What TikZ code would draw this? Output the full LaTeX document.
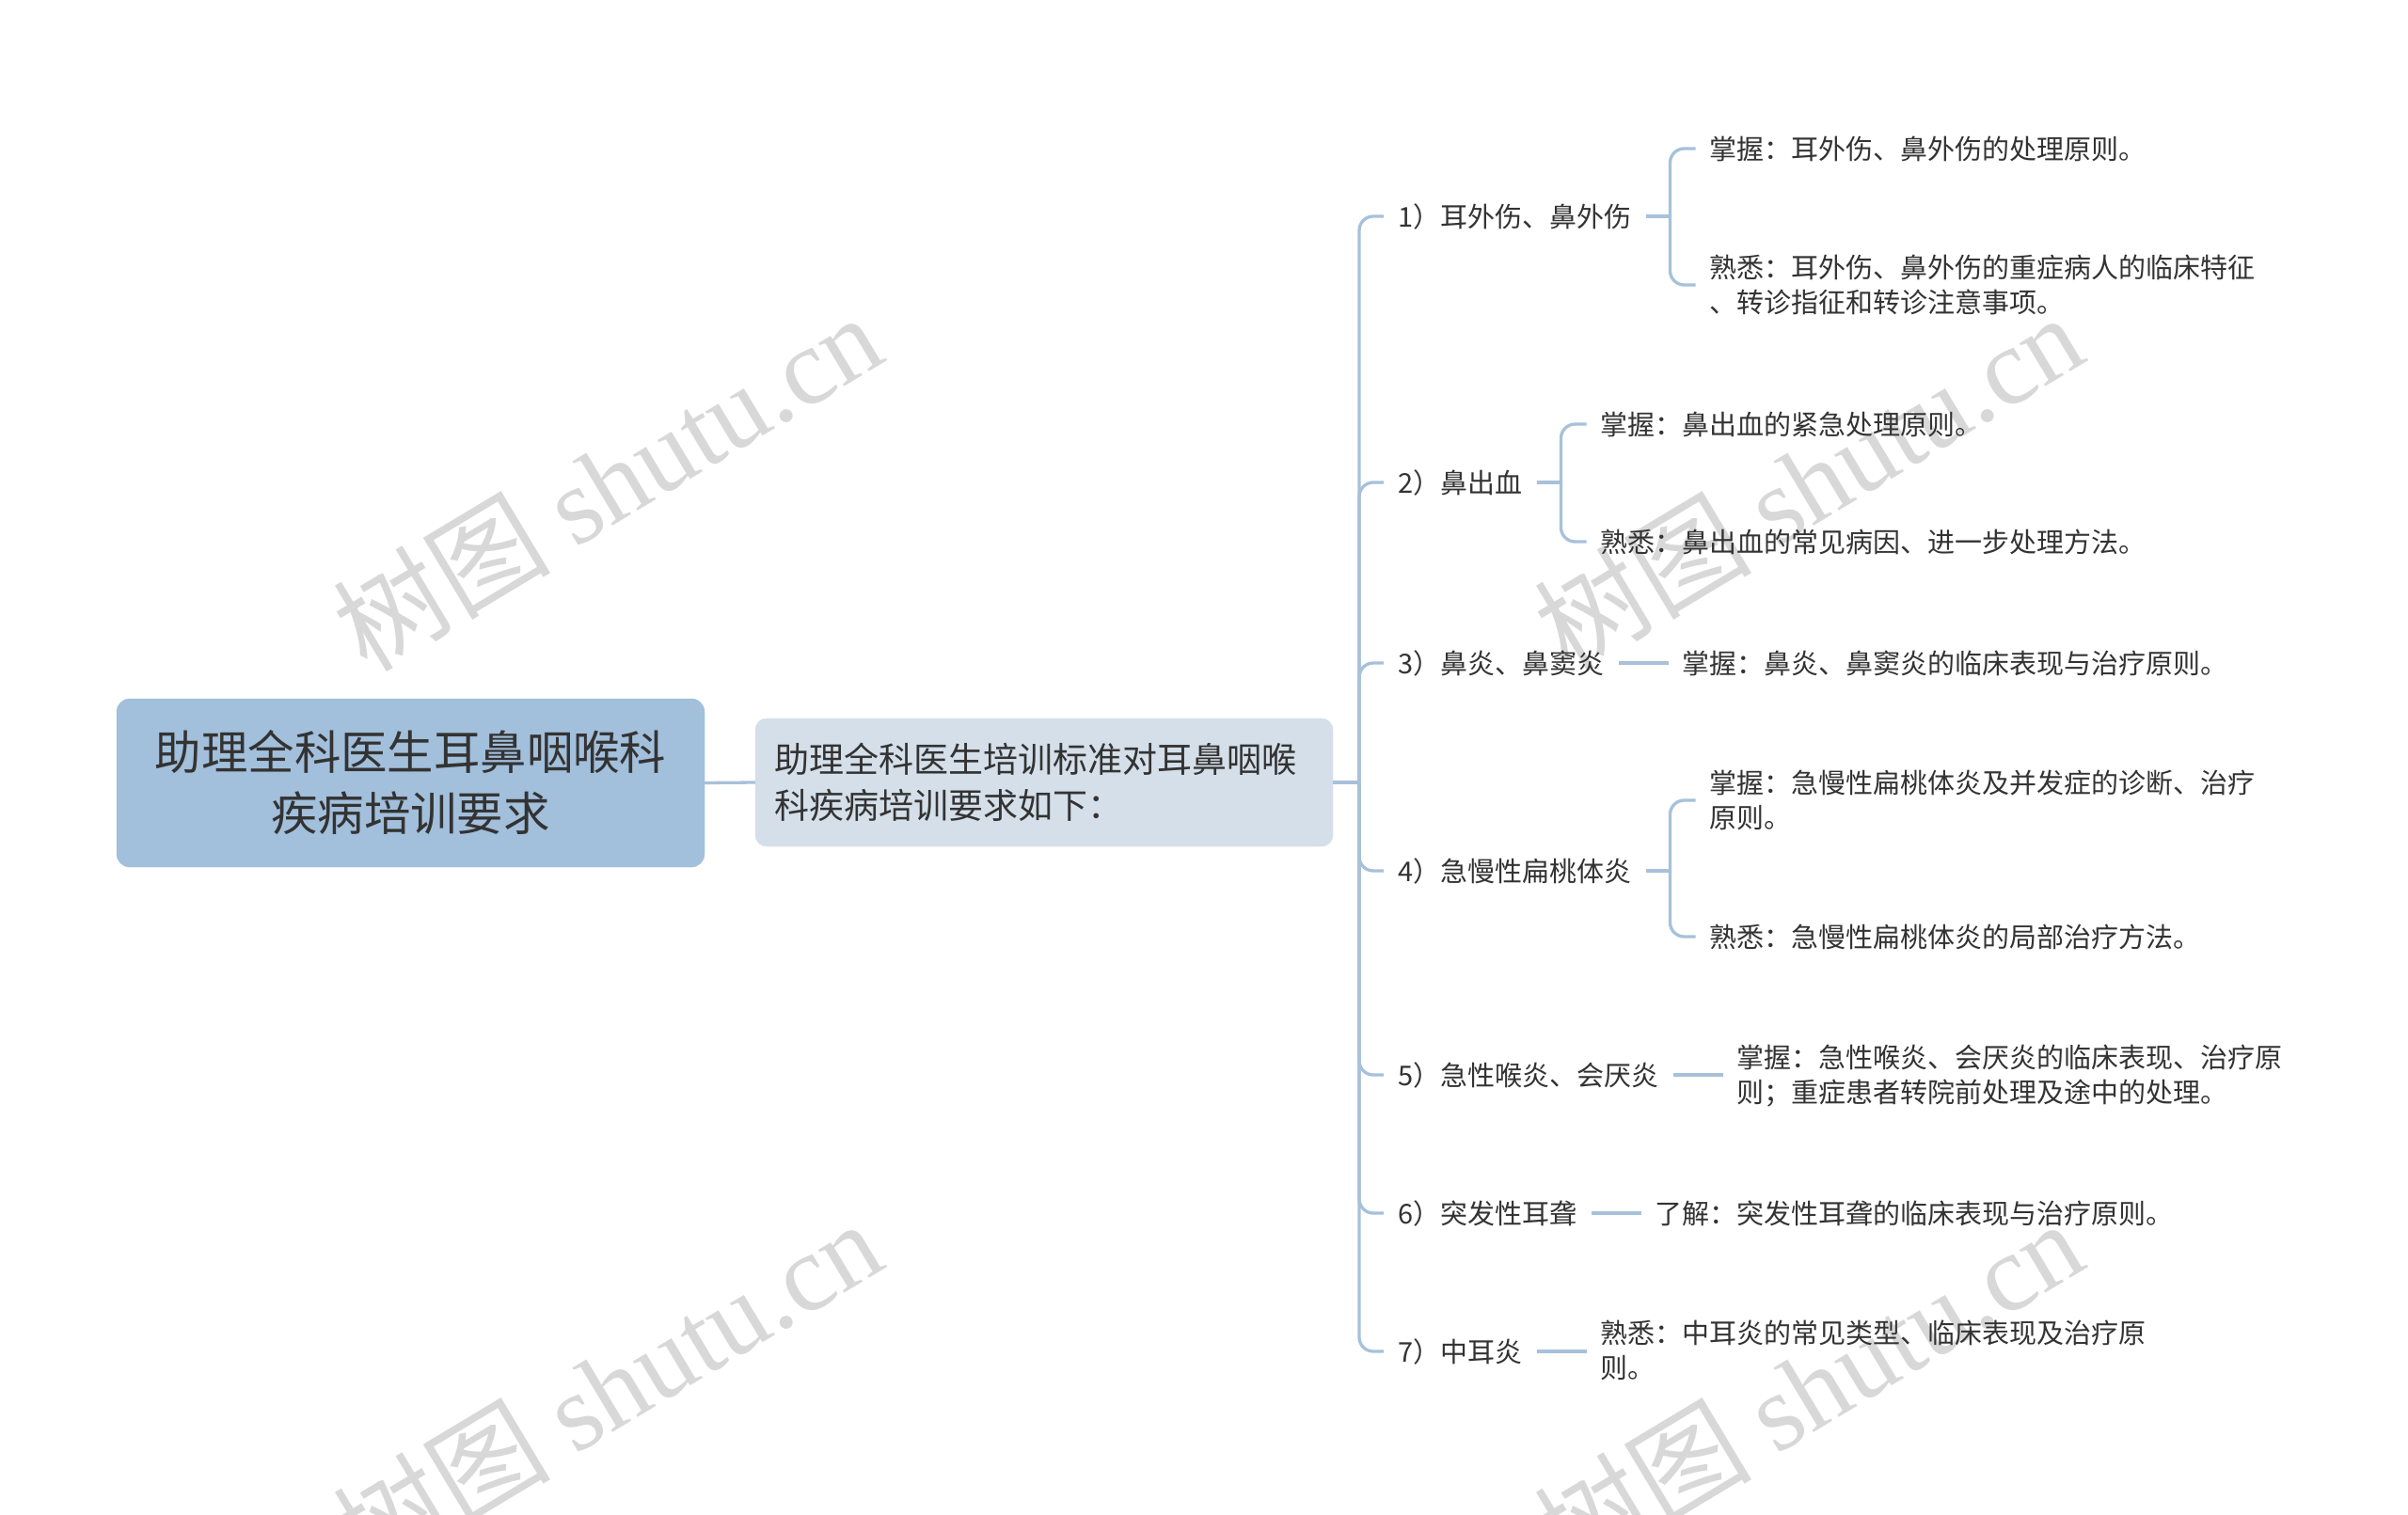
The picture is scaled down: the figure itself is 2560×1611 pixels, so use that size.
\documentclass[tikz,border=0pt]{standalone}
\usepackage{fontspec}
\setmainfont{Noto Sans CJK SC}
\newfontfamily\wmserif{Liberation Serif}
\usetikzlibrary{calc}
\definecolor{rootfill}{HTML}{A2BFDB}
\definecolor{midfill}{HTML}{D4DFE9}
\definecolor{linec}{HTML}{A7C1DA}
\definecolor{txt}{HTML}{333333}
\definecolor{wm}{HTML}{D8D8D8}
\begin{document}
\begin{tikzpicture}[x=1pt,y=-1pt,
  conn/.style={draw=linec, line width=3.3pt, rounded corners=15pt},
  rootbox/.style={fill=rootfill, draw=rootfill, rounded corners=14pt, text=txt,
    text width=585pt, inner xsep=20pt, inner ysep=0pt, minimum height=179pt, align=center,
    font=\fontsize{49.4pt}{65pt}\selectfont},
  midbox/.style={fill=midfill, draw=midfill, rounded corners=12pt, text=txt,
    text width=574pt, inner xsep=20pt, inner ysep=0pt, minimum height=136pt, align=left,
    font=\fontsize{37pt}{49pt}\selectfont},
  l2/.style={text=txt, inner xsep=15pt, inner ysep=4pt, anchor=west,
    font=\fontsize{29pt}{37.5pt}\selectfont},
  l3/.style={text=txt, inner xsep=15pt, inner ysep=4pt, anchor=west, align=left,
    font=\fontsize{29pt}{37.5pt}\selectfont},
  wmark/.style={text=wm, rotate=31, font=\fontsize{116pt}{120pt}\selectfont}
]
\useasboundingbox (0,0) rectangle (2560,1611);
\fill[white] (0,0) rectangle (2560,1611);

% watermarks
\node[wmark] (w1) at (645,512) {树图 {\wmserif shutu.cn}};
\node[wmark] (w2) at (1922,512) {树图 {\wmserif shutu.cn}};
\node[wmark] (w3) at (645,1476) {树图 {\wmserif shutu.cn}};
\node[wmark] (w4) at (1922,1476) {树图 {\wmserif shutu.cn}};

% main nodes
\node[rootbox] (root) at (436.5,832.5) {助理全科医生耳鼻咽喉科\\疾病培训要求};
\node[midbox] (mid) at (1110,832) {助理全科医生培训标准对耳鼻咽喉\\科疾病培训要求如下：};

\draw[conn] (root.east) -- (mid.west);
\coordinate (tj) at (1445,832);
\draw[conn] (mid.east) -- (tj);

% level 2
\node[l2] (b1) at (1471,230) {1）耳外伤、鼻外伤};
\node[l2] (b2) at (1471,513) {2）鼻出血};
\node[l2] (b3) at (1471,705) {3）鼻炎、鼻窦炎};
\node[l2] (b4) at (1471,926) {4）急慢性扁桃体炎};
\node[l2] (b5) at (1471,1143) {5）急性喉炎、会厌炎};
\node[l2] (b6) at (1471,1290) {6）突发性耳聋};
\node[l2] (b7) at (1471,1437) {7）中耳炎};

\foreach \b in {b1,b2,b3,b4,b5,b6,b7}{
  \draw[conn] (tj) |- (\b.west);
}

% level 3
\path (b1.east) ++(53,-72) node[l3] (c11) {掌握：耳外伤、鼻外伤的处理原则。};
\path (b1.east) ++(53,73) node[l3] (c12) {熟悉：耳外伤、鼻外伤的重症病人的临床特征\\、转诊指征和转诊注意事项。};
\path (b2.east) ++(53,-62) node[l3] (c21) {掌握：鼻出血的紧急处理原则。};
\path (b2.east) ++(53,63) node[l3] (c22) {熟悉：鼻出血的常见病因、进一步处理方法。};
\path (b3.east) ++(53,0) node[l3] (c31) {掌握：鼻炎、鼻窦炎的临床表现与治疗原则。};
\path (b4.east) ++(53,-75) node[l3] (c41) {掌握：急慢性扁桃体炎及并发症的诊断、治疗\\原则。};
\path (b4.east) ++(53,70) node[l3] (c42) {熟悉：急慢性扁桃体炎的局部治疗方法。};
\path (b5.east) ++(53,1) node[l3] (c51) {掌握：急性喉炎、会厌炎的临床表现、治疗原\\则；重症患者转院前处理及途中的处理。};
\path (b6.east) ++(53,0) node[l3] (c61) {了解：突发性耳聋的临床表现与治疗原则。};
\path (b7.east) ++(53,-1) node[l3] (c71) {熟悉：中耳炎的常见类型、临床表现及治疗原\\则。};

% brackets
\draw[conn] (b1.east) -- ++(26,0) coordinate (j1);
\draw[conn] (j1) |- (c11.west);
\draw[conn] (j1) |- (c12.west);
\draw[conn] (b2.east) -- ++(26,0) coordinate (j2);
\draw[conn] (j2) |- (c21.west);
\draw[conn] (j2) |- (c22.west);
\draw[conn] (b4.east) -- ++(26,0) coordinate (j4);
\draw[conn] (j4) |- (c41.west);
\draw[conn] (j4) |- (c42.west);
\draw[conn] (b3.east) -- (c31.west);
\draw[conn] (b5.east) -- (b5.east -| c51.west);
\draw[conn] (b6.east) -- (c61.west);
\draw[conn] (b7.east) -- (b7.east -| c71.west);
\end{tikzpicture}
\end{document}
